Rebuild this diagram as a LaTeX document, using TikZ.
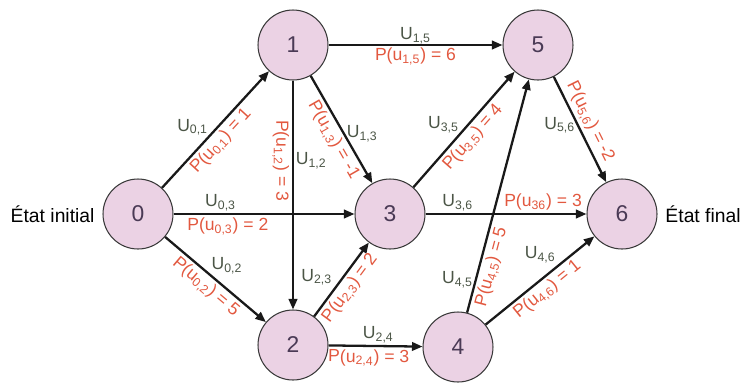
\documentclass[tikz,border=0pt]{standalone}
\usepackage{fontspec}
\setmainfont{Liberation Sans}
\usetikzlibrary{arrows.meta,positioning}
\definecolor{stateEdge}{HTML}{3A3A3A}
\definecolor{stateFill}{HTML}{EBD2E4}
\definecolor{stateText}{HTML}{4A3A55}
\definecolor{costRed}{HTML}{E2583F}
\definecolor{decGreen}{HTML}{4B5546}

\begin{document}
\begin{tikzpicture}[x=0.02cm, y=-0.02cm,
        every node/.style={font=\fontsize{10}{12}\selectfont},
        state/.style={circle, draw=stateEdge, line width=0.6pt, fill=stateFill, minimum size=1.4cm, inner sep=0pt, text=stateText, font=\fontsize{13}{15}\selectfont},
        ar/.style={-{Triangle[length=2.1mm,width=1.7mm]}, line width=1.3pt, black!90},
        ulab/.style={text=decGreen, inner sep=1pt},
        plab/.style={text=costRed, sloped, inner sep=1.5pt},
        side/.style={font=\fontsize{11}{13}\selectfont}
    ]
        \useasboundingbox (0,0) rectangle (741,383);
        \node[state] (s0) at (138,214) {0};
        \node[state] (s1) at (293,45) {1};
        \node[state] (s2) at (293,345) {2};
        \node[state] (s3) at (390,214) {3};
        \node[state] (s4) at (458,347) {4};
        \node[state] (s5) at (538,45) {5};
        \node[state] (s6) at (622,214) {6};
        \node[side, left=1pt of s0] (init) {État initial};
        \node[side, right=1pt of s6] (final) {État final};
        \draw[ar] (s0) -- (s1) node[ulab, pos=0.44, above left, inner sep=0pt] {U\textsubscript{0,1}} node[plab, pos=0.47, below] {P(u\textsubscript{0,1}) = 1};
        \draw[ar] (s0) -- (s3) node[ulab, pos=0.26, above] {U\textsubscript{0,3}} node[plab, pos=0.3, below] {P(u\textsubscript{0,3}) = 2};
        \draw[ar] (s0) -- (s2) node[ulab, pos=0.45, above right, inner sep=0pt] {U\textsubscript{0,2}} node[plab, pos=0.48, below] {P(u\textsubscript{0,2}) = 5};
        \draw[ar] (s1) -- (s5) node[ulab, pos=0.5, above, inner sep=0pt] {U\textsubscript{1,5}} node[plab, pos=0.5, below, inner sep=1pt] {P(u\textsubscript{1,5}) = 6};
        \draw[ar] (s1) -- (s2) node[ulab, pos=0.35, right] {U\textsubscript{1,2}} node[plab, pos=0.35, below] {P(u\textsubscript{1,2}) = 3};
        \draw[ar] (s1) -- (s3) node[ulab, pos=0.54, right] {U\textsubscript{1,3}} node[plab, pos=0.54, below] {P(u\textsubscript{1,3}) = -1};
        \draw[ar] (s3) -- (s5) node[ulab, pos=0.46, above left, inner sep=0pt] {U\textsubscript{3,5}} node[plab, pos=0.5, below] {P(u\textsubscript{3,5}) = 4};
        \draw[ar] (s3) -- (s6) node[ulab, pos=0.2, above] {U\textsubscript{3,6}} node[plab, pos=0.73, above] {P(u\textsubscript{36}) = 3};
        \draw[ar] (s5) -- (s6) node[ulab, pos=0.46, left] {U\textsubscript{5,6}} node[plab, pos=0.48, above] {P(u\textsubscript{5,6}) = -2};
        \draw[ar] (s2) -- (s3) node[ulab, pos=0.38, above left] {U\textsubscript{2,3}} node[plab, pos=0.48, below] {P(u\textsubscript{2,3}) = 2};
        \draw[ar] (s2) -- (s4) node[ulab, pos=0.53, above] {U\textsubscript{2,4}} node[plab, pos=0.43, below] {P(u\textsubscript{2,4}) = 3};
        \draw[ar] (s4) -- (s5) node[ulab, pos=0.14, left] {U\textsubscript{4,5}} node[plab, pos=0.21, below] {P(u\textsubscript{4,5}) = 5};
        \draw[ar] (s4) -- (s6) node[ulab, pos=0.67, above left] {U\textsubscript{4,6}} node[plab, pos=0.5, below] {P(u\textsubscript{4,6}) = 1};
    \end{tikzpicture}
\end{document}
